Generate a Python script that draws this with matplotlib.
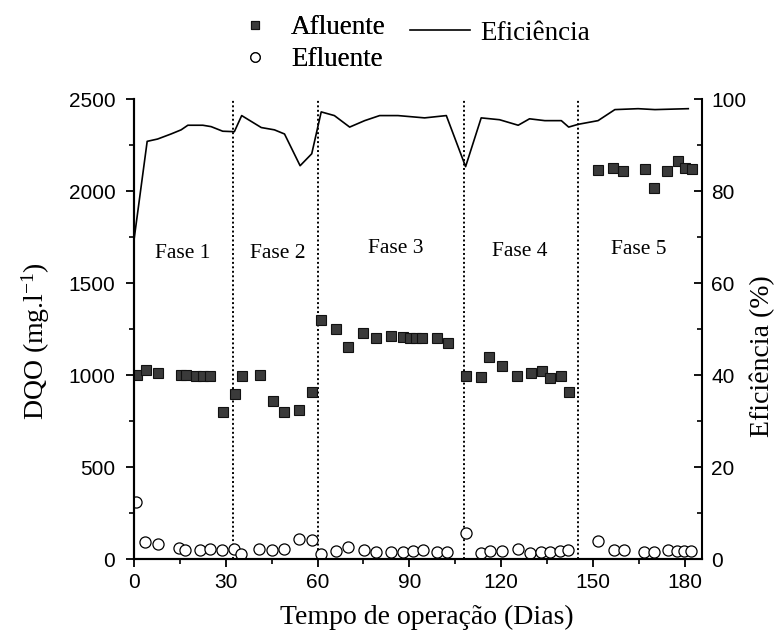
"""
DQO afluente/efluente e eficiência de remoção ao longo das fases de operação.
"""

import matplotlib
matplotlib.use("Agg")
import matplotlib.pyplot as plt

# Afluente (DQO, mg/l)
dias_afl = [1.0, 3.9, 8.0, 15.2, 17.0, 20.2, 22.5, 24.8, 29.0, 33.1, 35.2,
            41.3, 45.4, 49.0, 54.1, 58.2,
            61.2, 66.1, 70.1, 75.0, 79.2, 84.1, 87.9, 90.1, 92.3, 94.3, 99.0, 102.6,
            108.4, 113.3, 115.9, 120.4, 125.2, 129.7, 133.5, 135.9, 139.7, 142.1,
            151.7, 156.6, 159.9, 167.0, 170.1, 174.1, 177.9, 180.1, 182.3]
dqo_afl = [1002, 1029, 1011, 1002, 1002, 996, 996, 996, 797, 897, 992,
           998, 857, 797, 808, 908,
           1301, 1252, 1152, 1228, 1201, 1210, 1204, 1201, 1201, 1201, 1201, 1174,
           996, 987, 1098, 1047, 996, 1011, 1020, 984, 996, 908,
           2112, 2125, 2107, 2121, 2016, 2107, 2161, 2125, 2121]

# Efluente (DQO, mg/l)
dias_efl = [0.5, 3.6, 7.7, 14.6, 16.8, 21.6, 24.9, 28.8, 32.8, 35.0,
            40.7, 45.1, 49.0, 54.1, 58.1,
            61.0, 66.1, 70.1, 75.2, 79.0, 84.1, 88.1, 91.2, 94.5, 99.1, 102.4,
            108.6, 113.3, 116.5, 120.3, 125.6, 129.6, 133.2, 135.9, 139.4, 141.9,
            151.7, 156.8, 160.1, 166.8, 170.1, 174.6, 177.4, 179.8, 182.0]
dqo_efl = [308, 92, 82, 60, 51, 47, 54, 47, 56, 29,
           54, 47, 54, 110, 101,
           29, 41, 65, 51, 38, 36, 36, 41, 47, 38, 36,
           141, 33, 41, 41, 54, 33, 38, 38, 41, 51,
           96, 47, 47, 36, 36, 47, 45, 45, 45]

# Eficiência (%)
dias_efic = [0, 4.3, 7.7, 12.1, 15.4, 17.6, 22.5, 25.2, 29.0, 32.8, 35.2,
             41.6, 45.9, 49.2, 54.3, 58.1, 61.2, 65.5, 70.5, 75.4, 80.3,
             86.3, 95.0, 102.1, 108.4, 113.5, 119.5, 125.6, 129.3, 134.3,
             139.7, 142.1, 145.2, 151.7, 157.2, 164.8, 170.3, 181.2]
eficiencia = [69.4, 90.8, 91.3, 92.4, 93.3, 94.3, 94.3, 94.0, 93.0, 92.9, 96.4,
              93.8, 93.3, 92.4, 85.5, 88.1, 97.2, 96.4, 93.9, 95.3, 96.4,
              96.4, 95.9, 96.4, 85.3, 95.9, 95.5, 94.3, 95.7, 95.3,
              95.3, 93.9, 94.5, 95.3, 97.7, 97.9, 97.7, 97.9]

# Fases
limites_fase = [32.3, 60.1, 107.9, 145.2]
fases = ["Fase 1", "Fase 2", "Fase 3", "Fase 4", "Fase 5"]
pos_fase = [15.9, 47.1, 85.7, 126.0, 164.9]
alt_fase = [1660, 1660, 1690, 1670, 1683]

serif = "Liberation Serif"
sans = "Liberation Sans"
plt.rcParams["mathtext.fontset"] = "custom"
plt.rcParams["mathtext.rm"] = serif
plt.rcParams["mathtext.it"] = serif + ":italic"

fig = plt.figure(figsize=(7.81, 6.43), dpi=100)
ax = fig.add_axes([0.1716, 0.1306, 0.7269, 0.7154])
ax2 = ax.twinx()

# dados
h_afl, = ax.plot(dias_afl, dqo_afl, ls="none", marker="s", ms=6.5,
                 mfc="#3a3a3a", mec="#111111", mew=0.8, label="Afluente", zorder=3)
h_efl, = ax.plot(dias_efl, dqo_efl, ls="none", marker="o", ms=8,
                 mfc="white", mec="black", mew=0.9, label="Efluente", zorder=3)
h_efic, = ax2.plot(dias_efic, eficiencia, color="black", lw=1.2, label="Eficiência")

for x in limites_fase:
    ax.axvline(x, color="black", lw=1.4, ls=(0, (1, 1.3)), zorder=1)

for nome, x, y in zip(fases, pos_fase, alt_fase):
    ax.text(x, y, nome, family=serif, fontsize=15.5, ha="center", va="center")

# eixos
ax.set_xlim(0, 185.6)
ax.set_ylim(0, 2500)
ax2.set_ylim(0, 100)
ax.set_xticks([0, 30, 60, 90, 120, 150, 180])
ax.set_xticks([15, 45, 75, 105, 135, 165], minor=True)
ax.set_yticks([0, 500, 1000, 1500, 2000, 2500])
ax.set_yticks([250, 750, 1250, 1750, 2250], minor=True)
ax2.set_yticks([0, 20, 40, 60, 80, 100])
ax2.set_yticks([10, 30, 50, 70, 90], minor=True)

for a in (ax, ax2):
    a.spines["top"].set_visible(False)
    for s in a.spines.values():
        s.set_linewidth(1.5)
ax.spines["right"].set_visible(False)

ax.tick_params(which="major", direction="out", length=6, width=1.3, labelsize=15)
ax.tick_params(which="minor", direction="out", length=3.5, width=1.2)
ax.tick_params(axis="y", which="major", pad=7.5)
ax.tick_params(axis="x", which="major", pad=4)
ax2.tick_params(which="major", direction="in", length=6, width=1.3, labelsize=15, pad=7)
ax2.tick_params(which="minor", direction="in", length=3.5, width=1.2)
for lbl in ax.get_xticklabels() + ax.get_yticklabels() + ax2.get_yticklabels():
    lbl.set_family(sans)

ax.set_xlabel("Tempo de operação (Dias)", family=serif, fontsize=20)
ax.set_ylabel("DQO (mg.l$^{-1}$)", family=serif, fontsize=20)
ax2.set_ylabel("Eficiência (%)", family=serif, fontsize=20, rotation=90)
ax.xaxis.set_label_coords(0.515, -0.100)
ax.yaxis.set_label_coords(-0.144, 0.474)
ax2.yaxis.set_label_coords(1.085, 0.441)

# legendas
leg1 = fig.legend(handles=[h_afl, h_efl], loc="center left",
                  bbox_to_anchor=(241.5 / 781, 1 - 43.5 / 643),
                  frameon=False, prop={"family": serif, "size": 19.5},
                  handlelength=1.0, handletextpad=0.83, labelspacing=0.26,
                  borderpad=0, borderaxespad=0, markerscale=0.85)
fig.legend(handles=[h_efic], loc="center left",
           bbox_to_anchor=(410 / 781, 1 - 33 / 643),
           frameon=False, prop={"family": serif, "size": 19.5},
           handlelength=2.2, handletextpad=0.4,
           borderpad=0, borderaxespad=0)
fig.add_artist(leg1)

fig.savefig("out.png", dpi=100)
